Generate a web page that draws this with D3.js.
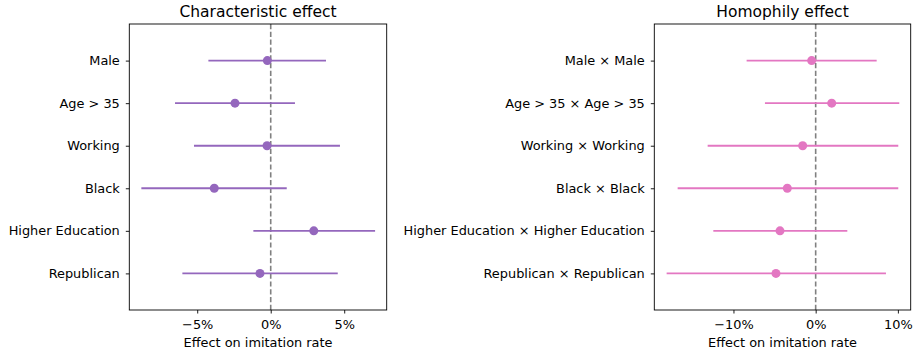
<!DOCTYPE html>
<html>
<head>
<meta charset="utf-8">
<script src="https://cdn.jsdelivr.net/npm/d3@7"></script>
<style>
  html, body { margin: 0; padding: 0; background: #fff; }
  svg { display: block; font-family: "DejaVu Sans", sans-serif; }
</style>
</head>
<body>
<svg id="chart" width="913" height="353"></svg>
<script>
// Characteristic effects (percent): point estimate with lower / upper interval
const charCategories = ["Male", "Age > 35", "Working", "Black", "Higher Education", "Republican"];
const charEstimate = [-0.23, -2.43, -0.25, -3.84, 2.93, -0.73];
const charLower = [-4.24, -6.51, -5.22, -8.80, -1.18, -6.01];
const charUpper = [3.76, 1.65, 4.71, 1.09, 7.10, 4.56];
const charTicks = [-5, 0, 5];

// Homophily effects (percent)
const homCategories = ["Male × Male", "Age > 35 × Age > 35", "Working × Working", "Black × Black",
  "Higher Education × Higher Education", "Republican × Republican"];
const homEstimate = [-0.49, 1.95, -1.58, -3.45, -4.34, -4.83];
const homLower = [-8.40, -6.17, -13.14, -16.79, -12.45, -18.13];
const homUpper = [7.42, 10.17, 10.05, 10.05, 3.85, 8.55];
const homTicks = [-10, 0, 10];

const svg = d3.select("#chart");
const labelSize = "12.9px";
const titleSize = "15.5px";

function fmtPct(v) {
  return (v < 0 ? "\u2212" : "") + Math.abs(v) + "%";
}

function panel(opts) {
  const { left, right, top, bottom, categories, est, lo, hi, ticks, xDomain, color, title } = opts;
  const g = svg.append("g");

  const x = d3.scaleLinear().domain(xDomain).range([left, right]);
  const y = d3.scaleLinear().domain([-0.86, categories.length - 1 + 0.86]).range([top, bottom]);

  // zero reference line
  g.append("line")
    .attr("x1", x(0)).attr("x2", x(0))
    .attr("y1", top).attr("y2", bottom)
    .attr("stroke", "#808080").attr("stroke-width", 1.6)
    .attr("stroke-dasharray", "5.2,2.6");

  const rows = categories.map((c, i) => ({ c, i, e: est[i], l: lo[i], h: hi[i] }));

  g.selectAll("line.ci").data(rows).enter().append("line")
    .attr("class", "ci")
    .attr("x1", d => x(d.l)).attr("x2", d => x(d.h))
    .attr("y1", d => y(d.i)).attr("y2", d => y(d.i))
    .attr("stroke", color).attr("stroke-width", 1.9);

  g.selectAll("circle.pt").data(rows).enter().append("circle")
    .attr("class", "pt")
    .attr("cx", d => x(d.e)).attr("cy", d => y(d.i)).attr("r", 4.5)
    .attr("fill", color);

  // frame
  g.append("rect")
    .attr("x", left).attr("y", top)
    .attr("width", right - left).attr("height", bottom - top)
    .attr("fill", "none").attr("stroke", "#000").attr("stroke-width", 0.9);

  // x axis
  const xAxis = d3.axisBottom(x).tickValues(ticks).tickSize(3.5).tickPadding(6.8).tickFormat(fmtPct);
  const xg = g.append("g").attr("transform", `translate(0,${bottom})`).call(xAxis);
  xg.select(".domain").remove();
  xg.selectAll(".tick line").attr("stroke", "#000").attr("stroke-width", 0.9);
  xg.selectAll(".tick text").attr("fill", "#000").style("font-size", labelSize)
    .style("font-family", "DejaVu Sans");

  // y axis with category labels
  const yAxis = d3.axisLeft(y).tickValues(d3.range(categories.length))
    .tickSize(3.5).tickPadding(6).tickFormat(i => categories[i]);
  const yg = g.append("g").attr("transform", `translate(${left},0)`).call(yAxis);
  yg.select(".domain").remove();
  yg.selectAll(".tick line").attr("stroke", "#000").attr("stroke-width", 0.9);
  yg.selectAll(".tick text").attr("fill", "#000").style("font-size", labelSize)
    .style("font-family", "DejaVu Sans");

  g.append("text")
    .attr("x", (left + right) / 2).attr("y", 346.5)
    .attr("text-anchor", "middle").attr("fill", "#000")
    .style("font-size", labelSize)
    .text("Effect on imitation rate");

  g.append("text")
    .attr("x", (left + right) / 2).attr("y", 17.3)
    .attr("text-anchor", "middle").attr("fill", "#000")
    .style("font-size", titleSize)
    .text(title);
}

panel({
  left: 129.3, right: 386.7, top: 24, bottom: 310,
  categories: charCategories, est: charEstimate, lo: charLower, hi: charUpper,
  ticks: charTicks, xDomain: [-9.62, 7.89], color: "#9467bd", title: "Characteristic effect"
});

panel({
  left: 654.3, right: 910.7, top: 24, bottom: 310,
  categories: homCategories, est: homEstimate, lo: homLower, hi: homUpper,
  ticks: homTicks, xDomain: [-19.63, 11.56], color: "#e377c2", title: "Homophily effect"
});
</script>
</body>
</html>
